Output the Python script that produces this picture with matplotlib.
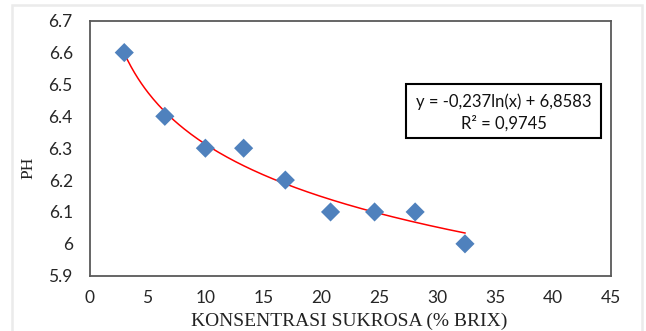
import numpy as np
import matplotlib
matplotlib.use("Agg")
import matplotlib.pyplot as plt
from matplotlib.patches import Rectangle

# Sucrose concentration (% Brix) and measured pH
brix = [3.0, 6.5, 10.0, 13.3, 16.9, 20.8, 24.6, 28.1, 32.4]
ph = [6.6, 6.4, 6.3, 6.3, 6.2, 6.1, 6.1, 6.1, 6.0]

# Logarithmic trendline coefficients: y = a*ln(x) + b
trend_a = -0.237
trend_b = 6.8583
r_squared = 0.9745

x_ticks = [0, 5, 10, 15, 20, 25, 30, 35, 40, 45]
y_ticks = [5.9, 6.0, 6.1, 6.2, 6.3, 6.4, 6.5, 6.6, 6.7]

tick_font = "Lato"
serif_font = "Liberation Serif"

W, H, DPI = 646, 331, 100
fig = plt.figure(figsize=(W / DPI, H / DPI), dpi=DPI)
fig.patch.set_facecolor("white")

# light frame around the chart area
fig.patches.append(Rectangle((12 / W, -0.05), (642 - 12) / W, (H - 5) / H + 0.05,
                             transform=fig.transFigure, fill=False,
                             edgecolor="#ebebeb", linewidth=1.8, clip_on=False))

ax = fig.add_axes([89.5 / W, 55.3 / H, (611 - 89.5) / W, (310.3 - 55.3) / H])
ax.set_xlim(0, 45)
ax.set_ylim(5.9, 6.7)

xs = np.linspace(min(brix), max(brix), 200)
ax.plot(xs, trend_a * np.log(xs) + trend_b, color="#ff0000", linewidth=1.1, zorder=2)
ax.scatter(brix, ph, marker="D", s=95, color="#4f81bd", edgecolors="none", zorder=3)

ax.set_xticks(x_ticks)
ax.set_yticks(y_ticks)
ax.set_xticklabels([f"{v:g}" for v in x_ticks], fontfamily=tick_font, fontsize=12.5, color="#262626")
ax.set_yticklabels([f"{v:g}" for v in y_ticks], fontfamily=tick_font, fontsize=12.5, color="#262626")
ax.tick_params(axis="both", length=0)
ax.tick_params(axis="x", pad=10)
ax.tick_params(axis="y", pad=12)

for side in ax.spines.values():
    side.set_color("#595959")
    side.set_linewidth(1.3)

fig.text(28 / W, 1 - 168 / H, "PH", rotation=90, ha="center", va="center",
         fontfamily=serif_font, fontsize=12.5, color="#222222")
fig.text(349 / W, 1 - 321.5 / H, "KONSENTRASI SUKROSA (% BRIX)", ha="center", va="center",
         fontfamily=serif_font, fontsize=14, color="#222222")

# trendline equation box
fig.patches.append(Rectangle((406 / W, 1 - 138 / H), (601 - 406) / W, (138 - 84) / H,
                             transform=fig.transFigure, fill=True, facecolor="white",
                             edgecolor="black", linewidth=1.5, zorder=5))
sign = "-" if trend_a < 0 else ""
eq_text = f"y = {sign}{abs(trend_a):.3f}ln(x) + {trend_b:.4f}".replace(".", ",")
r2_text = f"R² = {r_squared:.4f}".replace(".", ",")
fig.text(503.5 / W, 1 - 101.5 / H, eq_text, ha="center", va="center",
         fontfamily=tick_font, fontsize=12, color="#111111", zorder=6)
fig.text(503.5 / W, 1 - 123 / H, r2_text, ha="center", va="center",
         fontfamily=tick_font, fontsize=12, color="#111111", zorder=6)

fig.savefig("out.png", dpi=DPI, facecolor="white")
